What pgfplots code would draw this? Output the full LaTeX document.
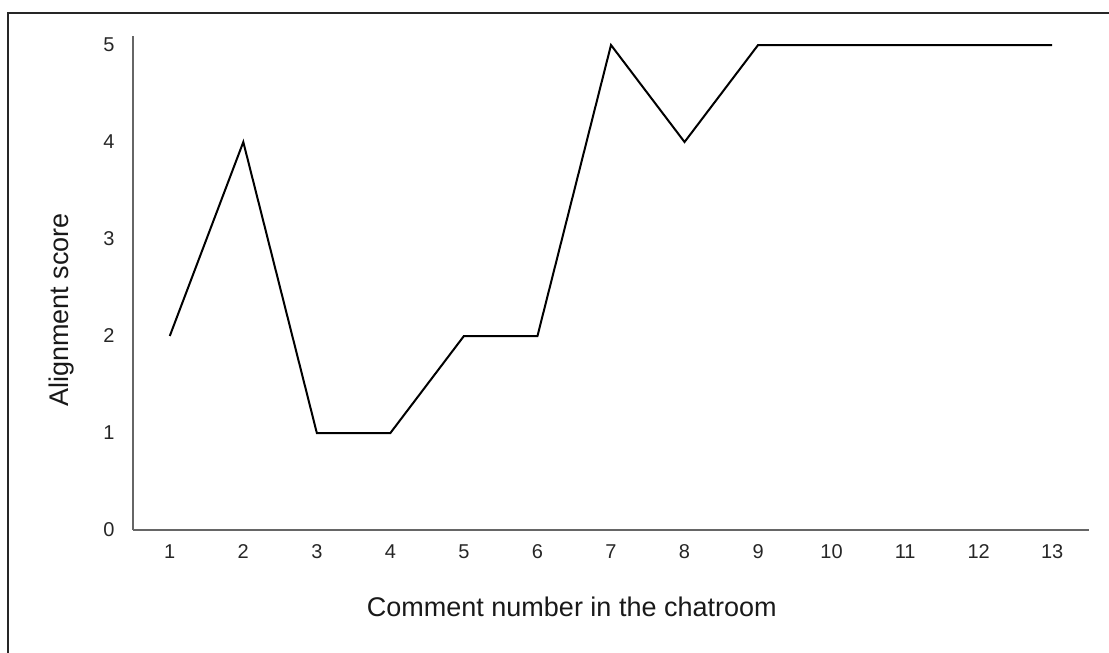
\documentclass[border=0pt]{standalone}
\usepackage{fontspec}
\setmainfont{Liberation Sans}
\usepackage{pgfplots}
\pgfplotsset{compat=1.18}
\begin{document}
\begin{tikzpicture}[x=1pt,y=1pt]
\path[use as bounding box] (0,0) rectangle (1109,653);
\draw[black!85, line width=2pt] (8,0) -- (8,640) -- (1109,640);
\begin{axis}[
  at={(133pt,123pt)}, anchor=south west,
  scale only axis, width=956pt, height=494pt,
  xmin=0.5, xmax=13.5, ymin=0, ymax=5.093,
  axis x line*=bottom, axis y line*=left,
  axis line style={draw=gray!80!black, line width=1.5pt, -},
  xtick={1,...,13}, ytick={0,...,5},
  xticklabels={1,2,3,4,5,6,7,8,9,10,11,12,13},
  yticklabels={0,1,2,3,4,5},
  major tick length=0pt,
  tick label style={font=\fontsize{20}{24}\selectfont, text=black!85},
  xticklabel style={yshift=-11pt, anchor=north},
  yticklabel style={xshift=-15pt, anchor=east},
  xlabel={Comment number in the chatroom},
  ylabel={Alignment score},
  label style={font=\fontsize{27}{32}\selectfont, text=black!90},
  xlabel style={at={(axis description cs:0.459,-0.176)}, anchor=base},
  ylabel style={at={(axis description cs:-0.067,0.445)}, anchor=base, rotate=0},
]
\addplot[black, line width=2pt, line join=miter] coordinates {
(1,2) (2,4) (3,1) (4,1) (5,2) (6,2) (7,5) (8,4) (9,5) (10,5) (11,5) (12,5) (13,5)};
\end{axis}
\end{tikzpicture}
\end{document}
